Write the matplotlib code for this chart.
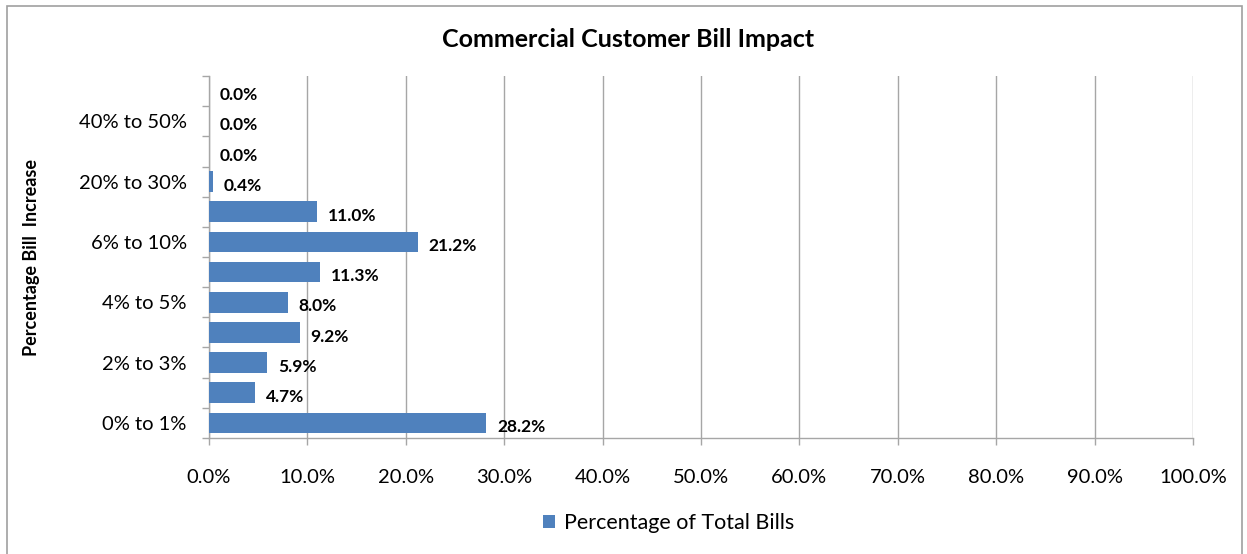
import matplotlib.pyplot as plt
from matplotlib.patches import Rectangle
from matplotlib.ticker import FuncFormatter

# 数据
categories = ['0% to 1%', '1% to 2%', '2% to 3%', '3% to 4%', '4% to 5%', '5% to 6%',
              '6% to 10%', '10% to 20%', '20% to 30%', '30% to 40%', '40% to 50%', 'Over 50%']
values = [28.2, 4.7, 5.9, 9.2, 8.0, 11.3, 21.2, 11.0, 0.4, 0.0, 0.0, 0.0]
# Excel只显示隔一个的标签
shown_labels = [c if i % 2 == 0 else '' for i, c in enumerate(categories)]

plt.rcParams['font.family'] = ['Lato', 'DejaVu Sans']
blue = '#4F81BD'
grid = '#A6A6A6'

fig = plt.figure(figsize=(12.47, 5.54), dpi=100)
ax = fig.add_axes([0.1676, 0.2094, 0.7891, 0.6534])

ypos = list(range(len(categories)))
bars = ax.barh(ypos, values, height=0.68, color=blue, zorder=3,
               label='Percentage of Total Bills')

for y, v in zip(ypos, values):
    ax.annotate('%.1f%%' % v, xy=(v, y), xytext=(8, -3), textcoords='offset points',
                ha='left', va='center', fontsize=12.5, fontweight='bold', color='black')

ax.set_xlim(0, 100)
ax.set_ylim(-0.5, len(categories) - 0.5)
ax.set_xticks(range(0, 101, 10))
ax.xaxis.set_major_formatter(FuncFormatter(lambda x, p: '%.1f%%' % x))
ax.set_yticks(ypos)
ax.set_yticklabels(shown_labels)
ax.set_yticks([i - 0.5 for i in range(len(categories) + 1)], minor=True)

ax.tick_params(axis='y', which='major', length=0, pad=16, labelsize=14.5)
ax.tick_params(axis='y', which='minor', length=5, color=grid, width=1)
ax.tick_params(axis='x', length=5, color=grid, width=1, pad=17, labelsize=14.5)

ax.grid(axis='x', color=grid, linewidth=1, zorder=0)
for s in ['top', 'right']:
    ax.spines[s].set_visible(False)
for s in ['left', 'bottom']:
    ax.spines[s].set_color(grid)
    ax.spines[s].set_linewidth(1)

ax.set_ylabel('Percentage Bill  Increase', fontsize=13, fontweight='bold', labelpad=0)
ax.yaxis.set_label_coords(-0.172, 0.5)

fig.text(0.5036, 0.928, 'Commercial Customer Bill Impact', ha='center', va='center',
         fontsize=18, fontweight='bold')

fig.legend(handles=[bars], loc='center', bbox_to_anchor=(0.536, 0.056), frameon=False,
           fontsize=15.5, handlelength=0.6, handleheight=0.6, handletextpad=0.4)

# 外框
fig.patches.append(Rectangle((0.0056, -0.01), 0.99, 1.0, transform=fig.transFigure,
                             fill=False, edgecolor='#A0A0A0', linewidth=1.2))

plt.savefig('out.png', dpi=100)
